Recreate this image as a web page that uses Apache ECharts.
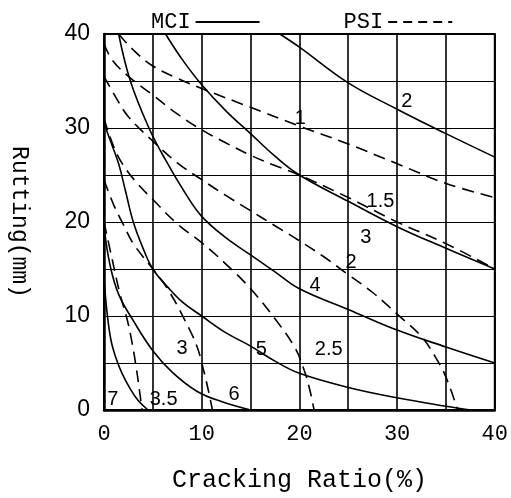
<!DOCTYPE html>
<html>
<head>
<meta charset="utf-8">
<script src="https://cdn.jsdelivr.net/npm/echarts@6/dist/echarts.min.js"></script>
<style>
  html, body { margin: 0; padding: 0; background: #fff; }
  #chart { width: 511px; height: 498px; }
</style>
</head>
<body>
<div id="chart"></div>
<script>
// MCI curves (solid), [cracking ratio %, rutting mm]
var mci2 = [[18, 40], [20, 38.6], [25, 34.8], [30, 32], [35, 29.4], [40, 26.9]]
var mci3 = [[6.3, 40], [8, 37.3], [10, 34.6], [12.5, 31.8], [15, 29.4], [17.5, 27], [20, 25], [25, 22.2], [30, 19.5], [35, 17.2], [40, 15]]
var mci4 = [[1.5, 40], [2.7, 35], [4.6, 30], [6.3, 26.6], [8.3, 23.1], [10, 20.6], [12.5, 18.3], [15, 16.5], [17.5, 14.7], [20, 12.9], [25, 10.7], [30, 8.5], [35, 6.7], [40, 5]]
var mci5 = [[0, 30.5], [0.7, 28.5], [1.5, 26.2], [2.2, 23.3], [3, 20], [4, 17.2], [5, 15], [6.5, 13.1], [8, 11.5], [10, 10], [12.5, 8.2], [15, 6.8], [17.5, 5.2], [20, 3.9], [25, 2.4], [30, 1.3], [35, 0.4], [37.5, 0]]
var mci6 = [[0, 19.5], [0.6, 15.5], [1.5, 12.3], [3, 9.5], [5, 6.3], [7, 4], [9.5, 2], [12, 0.9], [15, 0]]
var mci7 = [[0, 14], [0.3, 10.5], [0.7, 7.5], [1.2, 5.6], [1.8, 4], [2.6, 2.4], [3.5, 1], [4.5, 0]]

// PSI curves (dashed)
var psi1 = [[1.5, 40], [3, 38.3], [5, 36.6], [7.5, 35.3], [10, 34.2], [15, 32.2], [20, 30.2], [25, 28.3], [30, 26.2], [35, 24.1], [40, 22.6]]
var psi15 = [[0, 39], [0.8, 37.3], [2.5, 35.5], [5, 33.5], [7.5, 31.5], [10, 29.8], [12.5, 28.4], [15, 27.1], [17.5, 26], [20, 25], [25, 22.6], [30, 20], [35, 17.7], [40, 15]]
var psi2 = [[0, 35.5], [1.3, 33.1], [2.5, 31.2], [5, 28.6], [7.5, 26.3], [10, 24.5], [12.5, 22.8], [15, 21.2], [17.5, 19.6], [20, 18], [22.5, 16.3], [25, 14.4], [27.5, 12.5], [30, 10.2], [32.5, 7.8], [34, 5.5], [35, 3.5], [36.2, 0]]
var psi25 = [[0, 31], [1, 28], [2, 26], [3.5, 24], [5, 22.4], [7.5, 19.8], [10, 17.8], [12.5, 15.5], [15, 12.9], [17.5, 9.7], [19.5, 6.7], [20.5, 4.2], [21.1, 2], [21.5, 0]]
var psi3 = [[0, 24.5], [1, 21.8], [2, 19.7], [3, 17.7], [5, 15], [6.5, 12.9], [8.3, 9.5], [9.5, 6.8], [10.2, 4.2], [10.7, 2], [11.1, 0]]
var psi35 = [[0, 20], [0.8, 16.2], [1.6, 12.5], [2.4, 9.5], [2.9, 7], [3.3, 4.5], [3.6, 2.3], [3.9, 0]]

// curve labels [x, y, text]
var curveLabels = [
  [31, 32.8, '2'], [20.1, 31, '1'], [28.3, 22.2, '1.5'], [26.8, 18.3, '3'],
  [25.3, 15.7, '2'], [21.6, 13.2, '4'], [23, 6.4, '2.5'], [16.1, 6.4, '5'],
  [8, 6.5, '3'], [13.3, 1.6, '6'], [6.1, 1.1, '3.5'], [0.9, 1.1, '7']
]

var tickLabels = [0, 10, 20, 30, 40]

var solidCurves = [mci2, mci3, mci4, mci5, mci6, mci7]
var dashedCurves = [psi1, psi15, psi2, psi25, psi3, psi35]

var chart = echarts.init(document.getElementById('chart'))

function curve(name, data, dashed) {
  return {
    name: name,
    type: 'line',
    smooth: 0.4,
    symbol: 'none',
    data: data,
    lineStyle: {
      color: '#000',
      width: 1.6,
      type: dashed ? [12, 7] : 'solid'
    },
    itemStyle: { color: '#000' }
  }
}

var series = []
solidCurves.forEach(function(d) { series.push(curve('MCI', d, false)) })
dashedCurves.forEach(function(d) { series.push(curve('PSI', d, true)) })
series.push({
  type: 'scatter',
  symbolSize: 0,
  data: curveLabels,
  itemStyle: { opacity: 1, color: '#000' },
  label: {
    show: true,
    position: 'inside',
    formatter: function(p) { return p.data[2] },
    color: '#000',
    opacity: 1,
    fontFamily: 'Liberation Sans',
    fontSize: 20
  }
})

function tickFmt(v) {
  return tickLabels.indexOf(v) >= 0 ? String(v) : ''
}

chart.setOption({
  animation: false,
  backgroundColor: '#fff',
  legend: {
    data: [
      { name: 'MCI', icon: 'path://M0,0h64v2h-64z' },
      { name: 'PSI', icon: 'path://M0,0h9v2h-9zM15,0h9v2h-9zM30,0h9v2h-9zM45,0h9v2h-9zM60,0h4v2h-4z' }
    ],
    top: 6,
    left: 146,
    align: 'right',
    itemWidth: 64,
    itemHeight: 2,
    itemGap: 84,
    itemStyle: { color: '#000', borderWidth: 0 },
    textStyle: {
      fontFamily: 'Liberation Mono',
      fontSize: 22,
      color: '#000'
    }
  },
  grid: {
    left: 97,
    right: 15,
    top: 34,
    bottom: 72,
    show: true,
    borderColor: '#000',
    borderWidth: 2
  },
  xAxis: {
    type: 'value',
    min: 0,
    max: 40,
    interval: 5,
    name: 'Cracking Ratio(%)',
    nameLocation: 'middle',
    nameGap: 58,
    nameTextStyle: {
      fontFamily: 'Liberation Mono',
      fontSize: 25,
      color: '#000'
    },
    axisLine: { lineStyle: { color: '#000', width: 2.5 } },
    axisTick: { show: false },
    axisLabel: {
      formatter: tickFmt,
      margin: 13,
      fontFamily: 'Liberation Mono',
      fontSize: 22,
      color: '#000'
    },
    splitLine: { show: true, lineStyle: { color: '#000', width: 1.6 } }
  },
  yAxis: {
    type: 'value',
    min: 0,
    max: 40,
    interval: 5,
    name: 'Rutting(mm)',
    nameLocation: 'middle',
    nameRotate: -90,
    nameGap: 73,
    nameTextStyle: {
      fontFamily: 'Liberation Mono',
      fontSize: 23,
      color: '#000'
    },
    axisLine: { show: true, lineStyle: { color: '#000', width: 2.5 } },
    axisTick: { show: false },
    axisLabel: {
      formatter: tickFmt,
      margin: 14,
      fontFamily: 'Liberation Sans',
      fontSize: 23,
      color: '#000'
    },
    splitLine: { show: true, lineStyle: { color: '#000', width: 1.2 } }
  },
  series: series
})
</script>
</body>
</html>
